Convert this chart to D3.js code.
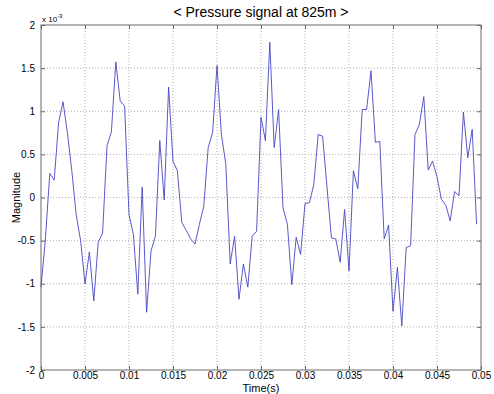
<!DOCTYPE html>
<html lang="en">
<head>
	<meta charset="UTF-8">
	<title>Pressure signal</title>
	<style type="text/css">
		body { margin: 0; background: #fff; }
		text { font-family: "Liberation Sans", Arial, sans-serif; fill: #000; }
		.grid line { stroke: #b0b0b0; stroke-dasharray: 1,2; stroke-width: 1; }
		.frame { fill: none; stroke: #6a6a6a; stroke-width: 1; }
	</style>
</head>
<body>
	<script type="text/javascript" src="https://cdn.jsdelivr.net/npm/d3@7/dist/d3.min.js"></script>
	<script type="text/javascript">
		// sampled signal, one value every 0.0005 s, magnitudes in units of 1e-3
		var sampleStep = 0.0005;
		var magnitude = [
			-1.04, -0.48, 0.28, 0.20, 0.87, 1.11, 0.75, 0.31, -0.20, -0.50,
			-1.00, -0.63, -1.20, -0.52, -0.41, 0.60, 0.76, 1.57, 1.12, 1.06,
			-0.20, -0.43, -1.12, 0.12, -1.33, -0.62, -0.45, 0.66, -0.03, 1.28,
			0.42, 0.31, -0.29, -0.38, -0.48, -0.54, -0.31, -0.10, 0.58, 0.75,
			1.53, 0.73, 0.39, -0.77, -0.45, -1.18, -0.77, -1.04, -0.45, -0.39,
			0.93, 0.66, 1.80, 0.58, 1.02, -0.12, -0.31, -1.01, -0.46, -0.66,
			-0.07, -0.06, 0.15, 0.73, 0.71, 0.12, -0.47, -0.48, -0.75, -0.14,
			-0.85, 0.31, 0.10, 1.02, 1.02, 1.47, 0.64, 0.65, -0.48, -0.32,
			-1.32, -0.81, -1.49, -0.58, -0.56, 0.73, 0.85, 1.17, 0.32, 0.42,
			0.24, -0.02, -0.09, -0.27, 0.07, 0.02, 0.99, 0.46, 0.79, -0.31
		];
		var xTicks = [0, 0.005, 0.01, 0.015, 0.02, 0.025, 0.03, 0.035, 0.04, 0.045, 0.05];
		var yTicks = [-2, -1.5, -1, -0.5, 0, 0.5, 1, 1.5, 2];

		var w = 494;
		var h = 394;
		var margin = {top: 25, right: 13, bottom: 24, left: 41};
		var iw = w - margin.left - margin.right;
		var ih = h - margin.top - margin.bottom;

		var svg = d3.select('body')
					.append('svg')
					.attr('width', w)
					.attr('height', h);

		var g = svg.append('g')
					.attr('transform', 'translate(' + margin.left + ',' + margin.top + ')');

		var x = d3.scaleLinear().domain([0, 0.05]).range([0, iw]);
		var y = d3.scaleLinear().domain([-2, 2]).range([ih, 0]);

		// dotted grid
		var grid = g.append('g').attr('class', 'grid');
		grid.selectAll('.vx')
			.data(xTicks.slice(1, -1))
			.enter()
			.append('line')
			.attr('x1', function (d) { return x(d); })
			.attr('x2', function (d) { return x(d); })
			.attr('y1', 0)
			.attr('y2', ih);
		grid.selectAll('.hy')
			.data(yTicks.slice(1, -1))
			.enter()
			.append('line')
			.attr('class', 'hy')
			.attr('x1', 0)
			.attr('x2', iw)
			.attr('y1', function (d) { return y(d); })
			.attr('y2', function (d) { return y(d); });

		// axes with inward ticks
		var fmt = function (d) { return String(d); };
		var xb = g.append('g')
			.attr('transform', 'translate(0,' + ih + ')')
			.call(d3.axisBottom(x).tickValues(xTicks).tickSizeInner(-4).tickSizeOuter(0).tickPadding(2).tickFormat(fmt));
		var xt = g.append('g')
			.call(d3.axisTop(x).tickValues(xTicks).tickSizeInner(-4).tickSizeOuter(0).tickFormat(''));
		var yl = g.append('g')
			.call(d3.axisLeft(y).tickValues(yTicks).tickSizeInner(-4).tickSizeOuter(0).tickPadding(6).tickFormat(fmt));
		var yr = g.append('g')
			.attr('transform', 'translate(' + iw + ',0)')
			.call(d3.axisRight(y).tickValues(yTicks).tickSizeInner(-4).tickSizeOuter(0).tickFormat(''));

		[xb, xt, yl, yr].forEach(function (a) {
			a.select('.domain').remove();
			a.selectAll('line').attr('stroke', '#6a6a6a');
			a.selectAll('text')
				.style('font-family', '"Liberation Sans", Arial, sans-serif')
				.attr('font-size', '10px')
				.attr('fill', '#000');
		});

		g.append('rect')
			.attr('class', 'frame')
			.attr('x', 0)
			.attr('y', 0)
			.attr('width', iw)
			.attr('height', ih);

		// signal
		var line = d3.line()
			.x(function (d, i) { return x(i * sampleStep); })
			.y(function (d) { return y(d); });

		g.append('path')
			.datum(magnitude)
			.attr('fill', 'none')
			.attr('stroke', '#4646c4')
			.attr('stroke-width', 0.9)
			.attr('d', line);

		// texts
		svg.append('text')
			.attr('x', margin.left + iw / 2)
			.attr('y', 17)
			.attr('text-anchor', 'middle')
			.attr('font-size', '14px')
			.text('< Pressure signal at 825m >');

		svg.append('text')
			.attr('x', margin.left + iw / 2)
			.attr('y', 392)
			.attr('text-anchor', 'middle')
			.attr('font-size', '11px')
			.text('Time(s)');

		svg.append('text')
			.attr('transform', 'translate(20,' + (margin.top + ih / 2) + ') rotate(-90)')
			.attr('text-anchor', 'middle')
			.attr('font-size', '11px')
			.text('Magnitude');

		var ex = svg.append('text')
			.attr('x', margin.left + 1)
			.attr('y', 22)
			.attr('font-size', '8px');
		ex.append('tspan').text('x 10');
		ex.append('tspan').attr('dy', -4).attr('font-size', '6px').text('-3');
	</script>
</body>
</html>
